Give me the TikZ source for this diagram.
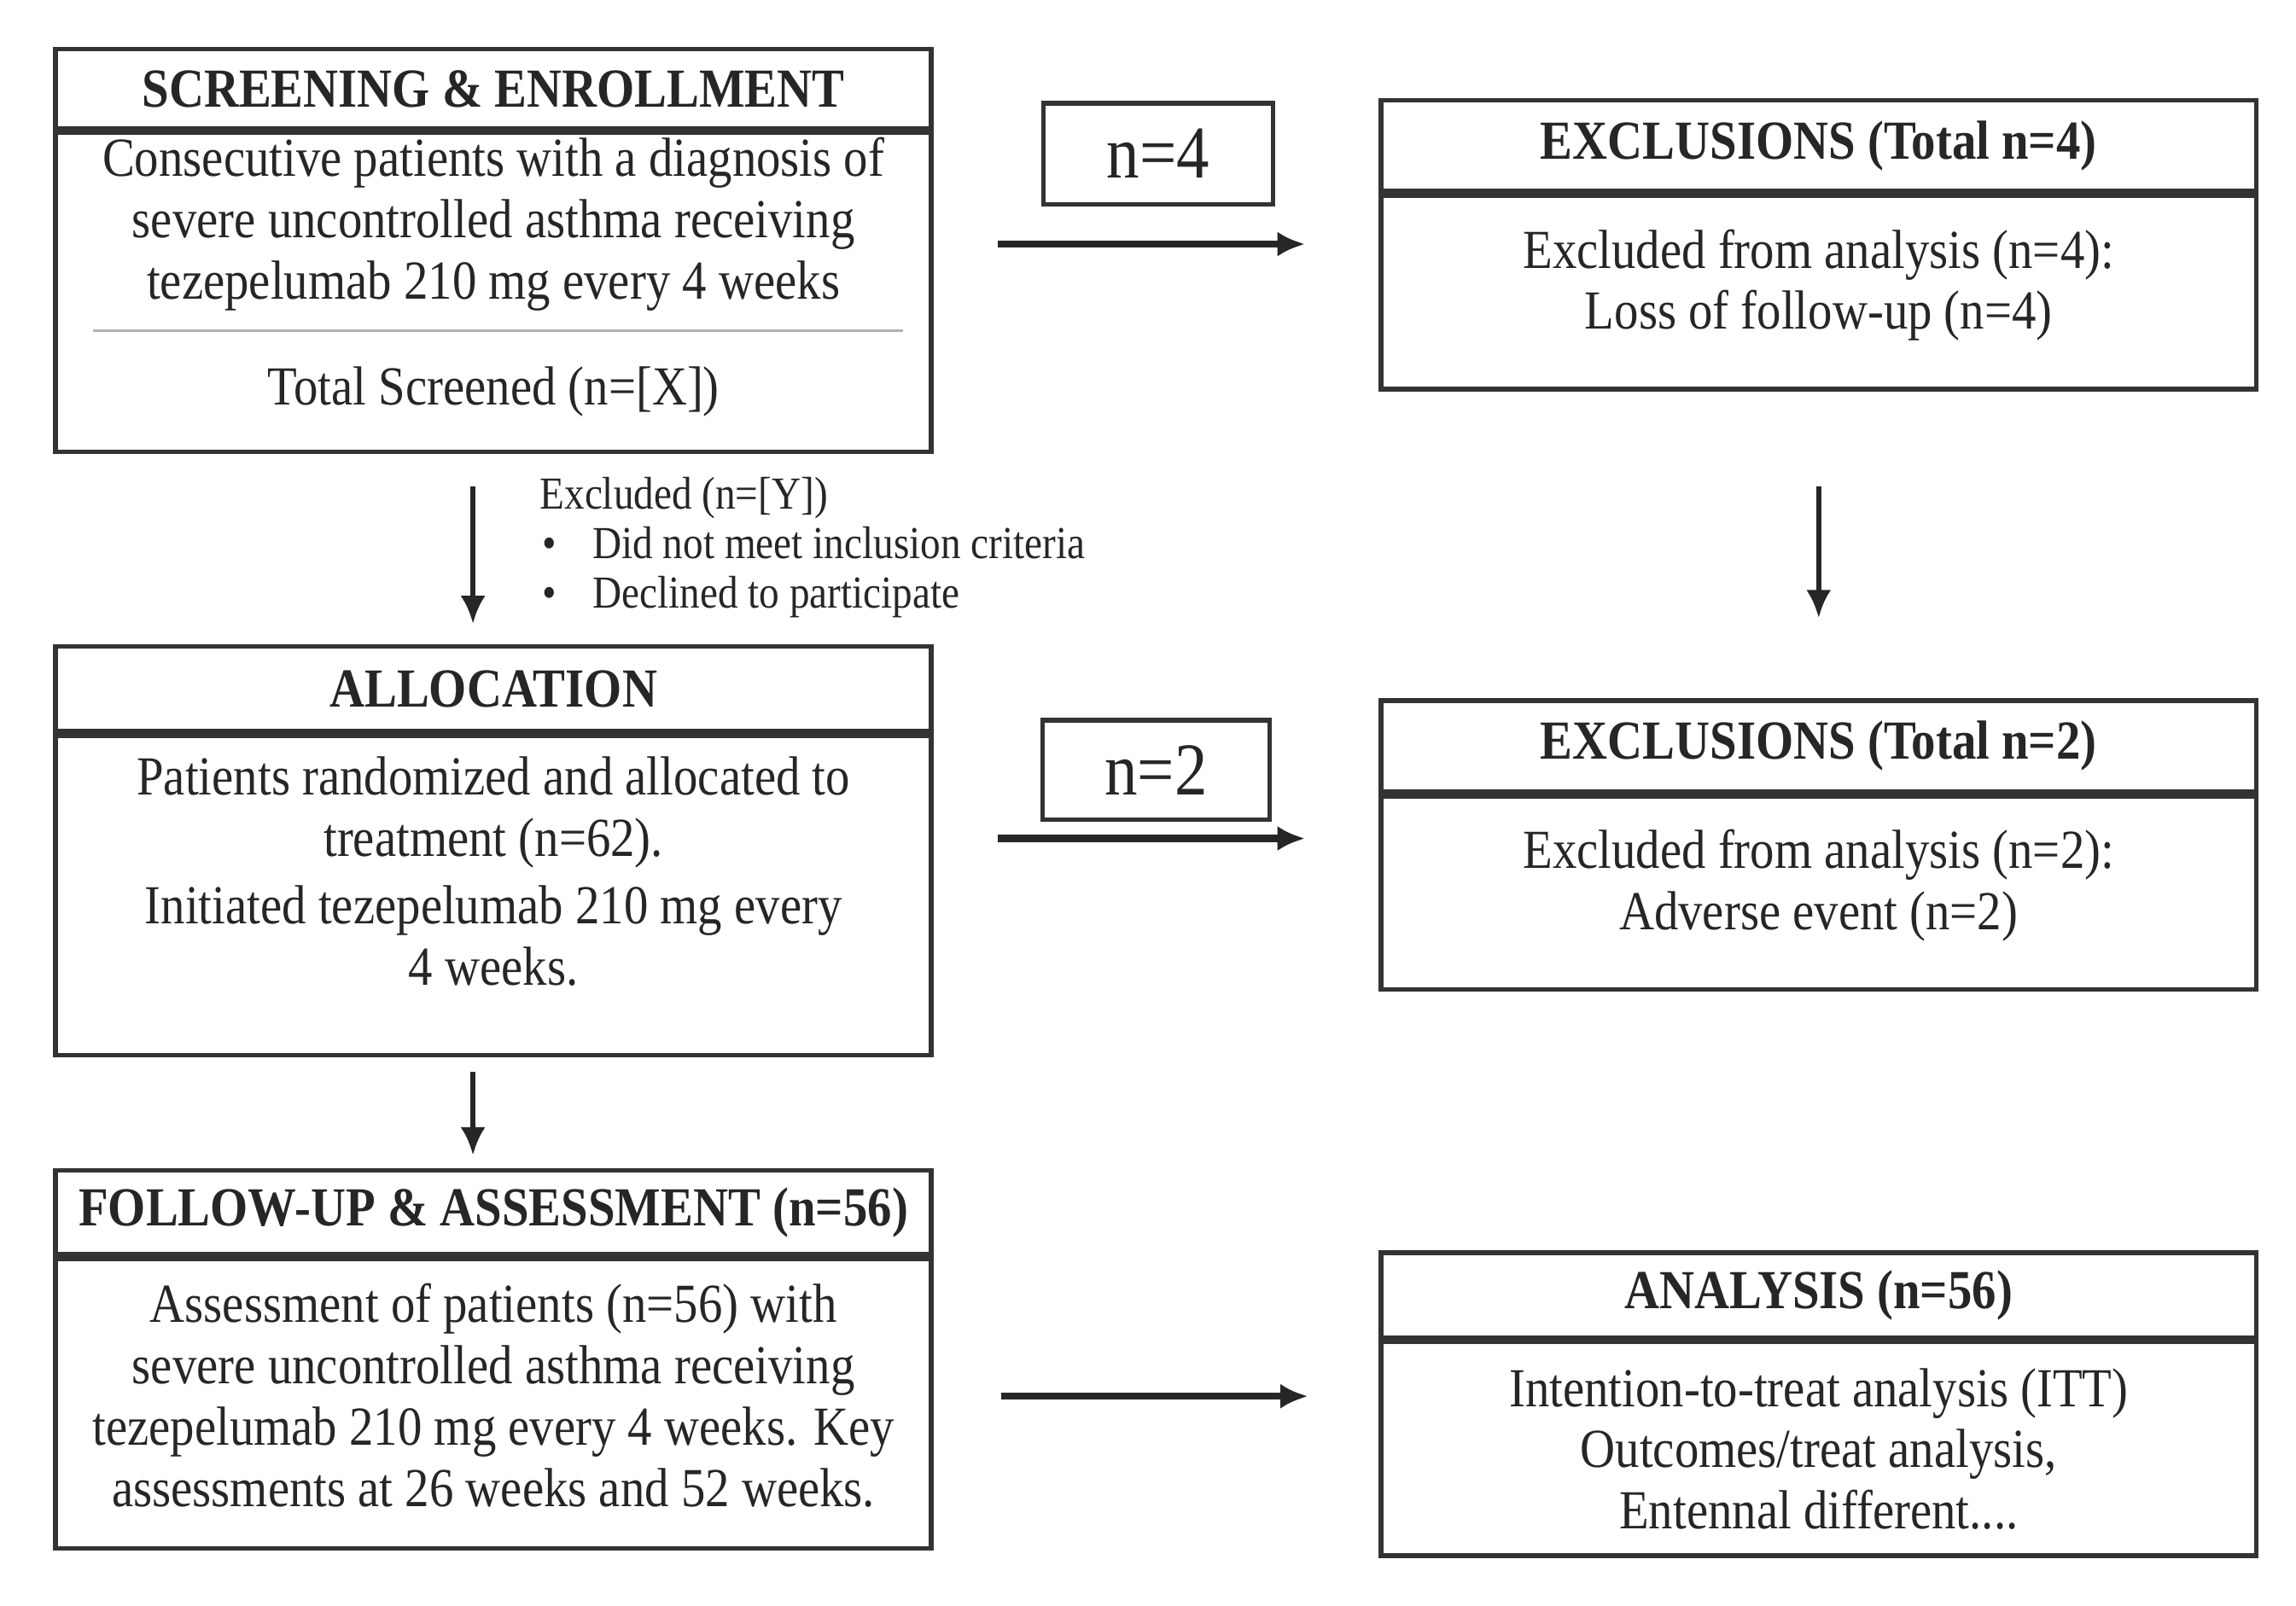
\documentclass[tikz,border=0pt]{standalone}
\usepackage{fontspec}
\setmainfont{Liberation Serif}[FakeStretch=0.88]
\usetikzlibrary{arrows.meta}
\usetikzlibrary{positioning}
\newcommand{\bodysize}{\fontsize{10.7}{11.9}\selectfont}
\newcommand{\notesize}{\fontsize{8.9}{9.6}\selectfont}
\newcommand{\blt}{\makebox[3.6mm][l]{\hspace{0.2mm}\textbullet}}
\tikzset{box/.style = {draw=black!80, line width=0.9pt, minimum width=5.98cm,
                       inner sep=0pt, align=center, text=black!85, font=\bodysize}}
\tikzset{head/.style = {box, font=\bodysize\bfseries}}
\tikzset{txt/.style = {inner sep=0pt, align=center, text=black!85, font=\bodysize}}
\tikzset{count/.style = {draw=black!80, line width=0.9pt, minimum width=1.57cm,
                         minimum height=0.69cm, text=black!85,
                         font=\fontsize{14.5}{16}\selectfont}}
\tikzset{flow/.style = {-{Latex[length=1.9mm,width=1.7mm]}, line width=1.4pt, black!85}}
\tikzset{drop/.style = {flow, line width=1pt}}

\begin{document}
\begin{tikzpicture}
    \useasboundingbox (0,-0.056) rectangle (15.68,10.914);
    % left column
    \node [head, anchor=north, minimum height=0.54cm] (scrH) at (3.37,10.594) {SCREENING \& ENROLLMENT};
    \node [box, below=0pt of scrH, minimum height=2.18cm] (scrB) {};
    \node [txt] (scrT) at ([yshift=-6.4mm]scrB.north)
      {Consecutive patients with a diagnosis of\\ severe uncontrolled asthma receiving\\ tezepelumab 210 mg every 4 weeks};
    \node [txt] (scrN) at ([yshift=4.3mm]scrB.south) {Total Screened (n=[X])};
    \draw [black!30, line width=0.5pt] ([xshift=2.7mm, yshift=-13.7mm]scrB.north west) -- ([xshift=-2.1mm, yshift=-13.7mm]scrB.north east);
    \node [head, anchor=north, minimum height=0.58cm] (allH) at (3.37,6.514) {ALLOCATION};
    \node [box, below=0pt of allH, minimum height=2.18cm] (allB) {};
    \node [txt] (allT) at ([yshift=-9.4mm]allB.north)
      {Patients randomized and allocated to\\ treatment (n=62).\\[0.4mm] Initiated tezepelumab 210 mg every\\ 4 weeks.};
    \node [head, anchor=north, minimum height=0.57cm] (fupH) at (3.37,2.934) {FOLLOW-UP \& ASSESSMENT (n=56)};
    \node [box, below=0pt of fupH, minimum height=1.98cm] (fupB) {};
    \node [txt] (fupT) at ([yshift=-9.5mm]fupB.north)
      {Assessment of patients (n=56) with\\ severe uncontrolled asthma receiving\\ tezepelumab 210 mg every 4 weeks. Key\\ assessments at 26 weeks and 52 weeks.};
    \node (excl) at (3.68,7.66) [anchor=north west, align=left, inner sep=0pt, text=black!85, font=\notesize]
      {Excluded (n=[Y])\\ \blt Did not meet inclusion criteria\\ \blt Declined to participate};
    % right column
    \node [head, anchor=north, minimum height=0.62cm] (exaH) at (12.42,10.244) {EXCLUSIONS (Total n=4)};
    \node [box, below=0pt of exaH, minimum height=1.32cm] (exaB) {};
    \node [txt] (exaT) at ([yshift=0.5mm]exaB.center) {Excluded from analysis (n=4):\\ Loss of follow-up (n=4)};
    \node [head, anchor=north, minimum height=0.62cm] (exbH) at (12.42,6.144) {EXCLUSIONS (Total n=2)};
    \node [box, below=0pt of exbH, minimum height=1.32cm] (exbB) {};
    \node [txt] (exbT) at ([yshift=0.5mm]exbB.center) {Excluded from analysis (n=2):\\ Adverse event (n=2)};
    \node [head, anchor=north, minimum height=0.58cm] (anaH) at (12.42,2.374) {ANALYSIS (n=56)};
    \node [box, below=0pt of anaH, minimum height=1.46cm] (anaB)
      {Intention-to-treat analysis (ITT)\\ Outcomes/treat analysis,\\ Entennal different....};
    % counts
    \node [count] (cntA) at (7.91,9.864) {n=4};
    \node [count, minimum width=1.55cm, minimum height=0.68cm] (cntB) at (7.895,5.654) {n=2};
    % arrows
    \draw [flow, shorten <=4.4mm, shorten >=5mm] ([yshift=3.3mm]scrB.east) -- ([yshift=3.3mm]scrB.east -| exaB.west);
    \draw [flow, shorten <=4.4mm, shorten >=5mm] ([yshift=3.9mm]allB.east) -- ([yshift=3.9mm]allB.east -| exbB.west);
    \draw [flow, shorten <=4.6mm, shorten >=4.8mm] ([yshift=0.5mm]fupB.east) -- ([yshift=0.5mm]fupB.east -| anaB.west);
    \draw [drop, shorten <=2.2mm, shorten >=1.4mm] ([xshift=-1.4mm]scrB.south) -- ([xshift=-1.4mm]allH.north);
    \draw [drop, shorten <=1mm, shorten >=0.9mm] ([xshift=-1.4mm]allB.south) -- ([xshift=-1.4mm]fupH.north);
    \draw [drop, shorten <=6.5mm, shorten >=5.5mm] (exaB.south) -- (exbH.north);
\end{tikzpicture}
\end{document}
